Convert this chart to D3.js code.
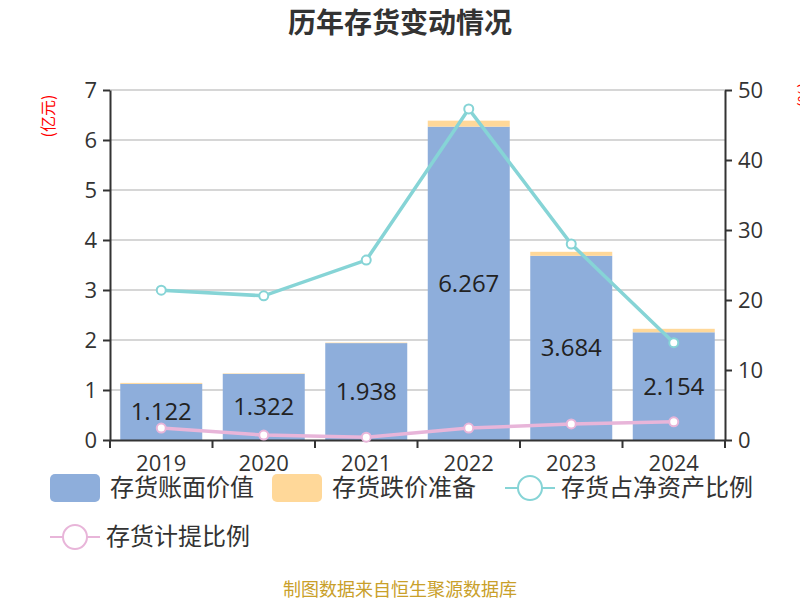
<!DOCTYPE html>
<html>
<head>
<meta charset="utf-8">
<script src="https://cdn.jsdelivr.net/npm/d3@7"></script>
<style>
  body { margin: 0; background: #fff; }
  svg { font-family: "Noto Sans CJK SC", "Noto Sans", sans-serif; }
</style>
</head>
<body>
<svg id="drawing_region"></svg>
<script>
// data
const years = ['2019', '2020', '2021', '2022', '2023', '2024']
const bookValue = [1.122, 1.322, 1.938, 6.267, 3.684, 2.154]
const provision = [0.02, 0.01, 0.01, 0.12, 0.08, 0.07]
const shareOfNetAssets = [21.4, 20.6, 25.7, 47.3, 28.0, 13.9]
const provisionRatio = [1.7, 0.7, 0.4, 1.7, 2.3, 2.6]
const leftTicks = [0, 1, 2, 3, 4, 5, 6, 7]
const rightTicks = [0, 10, 20, 30, 40, 50]

const W = 800, H = 600
const margin = {top: 90, right: 75, bottom: 160, left: 110}

const svg = d3.select('#drawing_region')
    .attr('width', W)
    .attr('height', H)

const x = d3.scaleBand().domain(years).range([margin.left, W - margin.right]).paddingInner(0.2).paddingOuter(0.1)
const yL = d3.scaleLinear().domain([0, 7]).range([H - margin.bottom, margin.top])
const yR = d3.scaleLinear().domain([0, 50]).range([H - margin.bottom, margin.top])

// title
svg.append('text')
    .attr('x', W / 2).attr('y', 33)
    .attr('text-anchor', 'middle')
    .attr('font-size', 28).attr('font-weight', 'bold')
    .attr('fill', '#333')
    .text('历年存货变动情况')

// grid
svg.append('g').selectAll('line').data(leftTicks.slice(1)).enter()
    .append('line')
    .attr('x1', margin.left).attr('x2', W - margin.right)
    .attr('y1', d => yL(d)).attr('y2', d => yL(d))
    .attr('stroke', '#c8c8c8').attr('stroke-width', 1.5)

// bars
const bars = svg.append('g')
bars.selectAll('.book').data(years).enter()
    .append('rect')
    .attr('x', d => x(d)).attr('width', x.bandwidth())
    .attr('y', (d, i) => yL(bookValue[i]))
    .attr('height', (d, i) => yL(0) - yL(bookValue[i]))
    .attr('fill', '#8eaedb')
bars.selectAll('.prov').data(years).enter()
    .append('rect')
    .attr('x', d => x(d)).attr('width', x.bandwidth())
    .attr('y', (d, i) => yL(bookValue[i] + provision[i]))
    .attr('height', (d, i) => yL(bookValue[i]) - yL(bookValue[i] + provision[i]))
    .attr('fill', '#ffd899')

// axes
const fmtAxis = g => {
    g.selectAll('path').attr('stroke', '#333').attr('stroke-width', 2)
    g.selectAll('line').attr('stroke', '#333').attr('stroke-width', 2)
    g.selectAll('text').attr('fill', '#333').attr('font-size', 22)
        .attr('font-family', '"Open Sans", "Noto Sans", sans-serif')
}
svg.append('g')
    .attr('transform', `translate(${margin.left},0)`)
    .call(d3.axisLeft(yL).tickValues(leftTicks).tickFormat(d3.format('d')).tickSize(7).tickSizeOuter(0).tickPadding(6))
    .call(fmtAxis)
svg.append('g')
    .attr('transform', `translate(${W - margin.right},0)`)
    .call(d3.axisRight(yR).tickValues(rightTicks).tickFormat(d3.format('d')).tickSize(7).tickSizeOuter(0).tickPadding(6))
    .call(fmtAxis)
const xAxis = svg.append('g')
    .attr('transform', `translate(0,${H - margin.bottom})`)
    .call(d3.axisBottom(x).tickSize(0).tickPadding(12).tickSizeOuter(0))
    .call(fmtAxis)
xAxis.selectAll('text').attr('dy', '0.85em')
// boundary ticks between categories
const bounds = d3.range(years.length + 1).map(i => margin.left + i * (W - margin.left - margin.right) / years.length)
xAxis.selectAll('.bound').data(bounds).enter()
    .append('line')
    .attr('x1', d => d).attr('x2', d => d)
    .attr('y1', 0).attr('y2', 8)
    .attr('stroke', '#333').attr('stroke-width', 2)

// axis unit labels
svg.append('text')
    .attr('transform', `translate(54,116) rotate(-90)`)
    .attr('text-anchor', 'middle')
    .attr('font-size', 16).attr('fill', 'red')
    .text('(亿元)')
svg.append('text')
    .attr('transform', `translate(810,95) rotate(-90)`)
    .attr('text-anchor', 'middle')
    .attr('font-size', 16).attr('fill', 'red')
    .text('(%)')

// data labels
svg.append('g').selectAll('text').data(years).enter()
    .append('text')
    .attr('x', d => x(d) + x.bandwidth() / 2)
    .attr('y', (d, i) => (yL(0) + yL(bookValue[i])) / 2)
    .attr('dy', '0.35em')
    .attr('text-anchor', 'middle')
    .attr('font-size', 24).attr('fill', '#222')
    .attr('font-family', '"Open Sans", "Noto Sans", sans-serif')
    .text((d, i) => bookValue[i].toFixed(3))

// lines
const drawLine = (vals, color) => {
    const line = d3.line()
        .x((d, i) => x(years[i]) + x.bandwidth() / 2)
        .y(d => yR(d))
    svg.append('path')
        .datum(vals)
        .attr('d', line)
        .attr('fill', 'none')
        .attr('stroke', color).attr('stroke-width', 3.5)
    svg.append('g').selectAll('circle').data(vals).enter()
        .append('circle')
        .attr('cx', (d, i) => x(years[i]) + x.bandwidth() / 2)
        .attr('cy', d => yR(d))
        .attr('r', 4.5)
        .attr('fill', '#fff').attr('stroke', color).attr('stroke-width', 2)
}
drawLine(shareOfNetAssets, '#86d4d6')
drawLine(provisionRatio, '#e8b5d9')

// legend
const legend = svg.append('g').attr('font-size', 24).attr('fill', '#333')
const legendItems = [
    {name: '存货账面价值', type: 'rect', color: '#8eaedb', x: 50, y: 488},
    {name: '存货跌价准备', type: 'rect', color: '#ffd899', x: 272, y: 488},
    {name: '存货占净资产比例', type: 'line', color: '#86d4d6', x: 505, y: 488},
    {name: '存货计提比例', type: 'line', color: '#e8b5d9', x: 50, y: 537}
]
legendItems.forEach(it => {
    const g = legend.append('g').attr('transform', `translate(${it.x},${it.y})`)
    if (it.type === 'rect') {
        g.append('rect').attr('x', 0).attr('y', -14).attr('width', 50).attr('height', 28)
            .attr('rx', 5).attr('fill', it.color)
    } else {
        g.append('line').attr('x1', 0).attr('x2', 50).attr('stroke', it.color).attr('stroke-width', 2)
        g.append('circle').attr('cx', 25).attr('r', 12).attr('fill', '#fff')
            .attr('stroke', it.color).attr('stroke-width', 2)
    }
    g.append('text').attr('x', it.type === 'rect' ? 60 : 56).attr('dy', '0.35em').attr('fill', '#333').text(it.name)
})

// source
svg.append('text')
    .attr('x', W / 2).attr('y', 596)
    .attr('text-anchor', 'middle')
    .attr('font-size', 18).attr('fill', '#c9a02a')
    .text('制图数据来自恒生聚源数据库')
</script>
</body>
</html>
